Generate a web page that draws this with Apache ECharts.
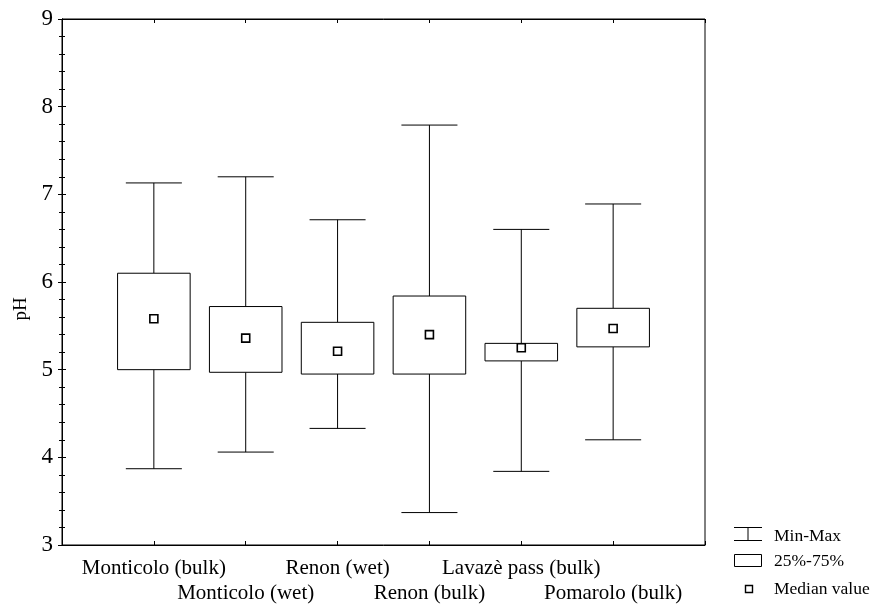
<!DOCTYPE html>
<html>
<head>
<meta charset="utf-8">
<script src="https://cdn.jsdelivr.net/npm/echarts@6/dist/echarts.min.js"></script>
<style>html,body{margin:0;padding:0;background:#fff;}#c{width:871px;height:606px;}</style>
</head>
<body>
<div id="c"></div>
<script>
const categories = ['Monticolo (bulk)', 'Monticolo (wet)', 'Renon (wet)', 'Renon (bulk)', 'Lavazè pass (bulk)', 'Pomarolo (bulk)'];
const minV = [3.87, 4.06, 4.33, 3.37, 3.84, 4.20];
const q1V  = [5.00, 4.97, 4.95, 4.95, 5.10, 5.26];
const medV = [5.58, 5.36, 5.21, 5.40, 5.25, 5.47];
const q3V  = [6.10, 5.72, 5.54, 5.84, 5.30, 5.70];
const maxV = [7.13, 7.20, 6.71, 7.79, 6.60, 6.89];
const yTicks = [3, 4, 5, 6, 7, 8, 9];
const yName = 'pH';
const legendLabels = ['Min-Max', '25%-75%', 'Median value'];

const data = categories.map((c, i) => [i + 1, minV[i], q1V[i], medV[i], q3V[i], maxV[i]]);
const serif = 'Liberation Serif';
const tickStyle = { color: '#000', width: 1 };

const chart = echarts.init(document.getElementById('c'));
chart.setOption({
  animation: false,
  backgroundColor: '#fff',
  grid: { left: 62, right: 166, top: 19, bottom: 58, show: true, borderColor: '#000', borderWidth: 1 },
  xAxis: [{
    type: 'value', min: 0, max: categories.length + 1, interval: 1,
    axisLine: { show: true, lineStyle: { color: '#000', width: 1 } },
    axisTick: { show: true, inside: true, length: 4, lineStyle: tickStyle },
    splitLine: { show: false },
    axisLabel: {
      show: true, margin: 11, fontFamily: serif, fontSize: 21, color: '#000', lineHeight: 25,
      formatter: function (v) {
        const i = Math.round(v) - 1;
        if (i < 0 || i >= categories.length) return '';
        return i % 2 === 0 ? categories[i] : '\n' + categories[i];
      }
    }
  }, {
    type: 'value', position: 'top', min: 0, max: categories.length + 1, interval: 1,
    axisLine: { show: true, lineStyle: { color: '#000', width: 1 } },
    axisTick: { show: true, inside: true, length: 4, lineStyle: tickStyle },
    splitLine: { show: false },
    axisLabel: { show: false }
  }],
  yAxis: [{
    type: 'value', min: yTicks[0], max: yTicks[yTicks.length - 1], interval: 1,
    axisLine: { show: true, lineStyle: { color: '#000', width: 1 } },
    axisTick: { show: true, inside: true, length: 4, lineStyle: tickStyle },
    minorTick: { show: true, splitNumber: 5, length: 3, lineStyle: tickStyle },
    splitLine: { show: false },
    axisLabel: { margin: 9, fontFamily: serif, fontSize: 23, color: '#000' }
  }, {
    type: 'value', position: 'right', min: yTicks[0], max: yTicks[yTicks.length - 1], interval: 1,
    axisLine: { show: true, lineStyle: { color: '#000', width: 1 } },
    axisTick: { show: true, inside: true, length: 4, lineStyle: tickStyle },
    minorTick: { show: true, splitNumber: 5, length: 3, lineStyle: tickStyle },
    splitLine: { show: false },
    axisLabel: { show: false }
  }],
  series: [{
    type: 'custom',
    data: data,
    encode: { x: 0, y: [1, 2, 3, 4, 5] },
    renderItem: function (params, api) {
      const x = api.value(0);
      const pMin = api.coord([x, api.value(1)]);
      const pQ1 = api.coord([x, api.value(2)]);
      const pMed = api.coord([x, api.value(3)]);
      const pQ3 = api.coord([x, api.value(4)]);
      const pMax = api.coord([x, api.value(5)]);
      const band = api.size([1, 0])[0];
      const bw = band * 0.79, cw = band * 0.61;
      const cx = pMin[0];
      const ls = { stroke: '#000', lineWidth: 1, fill: null };
      return {
        type: 'group',
        children: [
          { type: 'line', shape: { x1: cx, y1: pMax[1], x2: cx, y2: pQ3[1] }, style: ls },
          { type: 'line', shape: { x1: cx, y1: pQ1[1], x2: cx, y2: pMin[1] }, style: ls },
          { type: 'line', shape: { x1: cx - cw / 2, y1: pMax[1], x2: cx + cw / 2, y2: pMax[1] }, style: ls },
          { type: 'line', shape: { x1: cx - cw / 2, y1: pMin[1], x2: cx + cw / 2, y2: pMin[1] }, style: ls },
          { type: 'rect', shape: { x: cx - bw / 2, y: pQ3[1], width: bw, height: pQ1[1] - pQ3[1] }, style: { stroke: '#000', lineWidth: 1, fill: '#fff' } },
          { type: 'rect', shape: { x: cx - 4, y: pMed[1] - 4, width: 8, height: 8 }, style: { stroke: '#000', lineWidth: 1.6, fill: '#fff' } }
        ]
      };
    }
  }],
  graphic: [
    { type: 'text', x: 21, y: 309, rotation: Math.PI / 2, style: { text: yName, fontFamily: serif, fontSize: 19, fill: '#000', align: 'center', verticalAlign: 'middle' } },
    { type: 'line', shape: { x1: 734, y1: 527.5, x2: 762, y2: 527.5 }, style: { stroke: '#000', lineWidth: 1 } },
    { type: 'line', shape: { x1: 748, y1: 527.5, x2: 748, y2: 540.5 }, style: { stroke: '#000', lineWidth: 1 } },
    { type: 'line', shape: { x1: 734, y1: 540.5, x2: 762, y2: 540.5 }, style: { stroke: '#000', lineWidth: 1 } },
    { type: 'rect', shape: { x: 734.5, y: 554.5, width: 27, height: 12 }, style: { stroke: '#000', lineWidth: 1, fill: '#fff' } },
    { type: 'rect', shape: { x: 745.5, y: 585.5, width: 7, height: 7 }, style: { stroke: '#000', lineWidth: 1.4, fill: '#fff' } },
    { type: 'text', x: 774, y: 536, style: { text: legendLabels[0], fontFamily: serif, fontSize: 17.5, fill: '#000', verticalAlign: 'middle' } },
    { type: 'text', x: 774, y: 561, style: { text: legendLabels[1], fontFamily: serif, fontSize: 17.5, fill: '#000', verticalAlign: 'middle' } },
    { type: 'text', x: 774, y: 589, style: { text: legendLabels[2], fontFamily: serif, fontSize: 17.5, fill: '#000', verticalAlign: 'middle' } }
  ]
});
</script>
</body>
</html>
